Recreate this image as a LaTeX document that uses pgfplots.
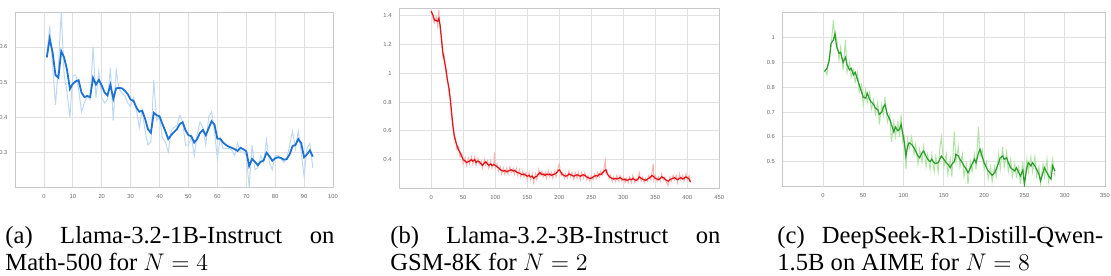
\documentclass[border=0pt]{standalone}
\usepackage{fontspec}
\setmainfont{Liberation Serif}
\setsansfont{Liberation Sans}
\usepackage{pgfplots}
\pgfplotsset{compat=1.18}
\definecolor{bdark}{RGB}{30,115,210}
\definecolor{blight}{RGB}{190,216,244}
\definecolor{rdark}{RGB}{228,18,22}
\definecolor{rlight}{RGB}{250,178,178}
\definecolor{gdark}{RGB}{45,155,45}
\definecolor{glight}{RGB}{175,228,165}
\newcommand{\ticklbl}{\sffamily\fontsize{2.9pt}{3.2pt}\selectfont}
\pgfplotsset{
  panel/.style={
    scale only axis,
    anchor=south west,
    axis line style={draw=black!22, line width=0.4pt},
    grid=major,
    major grid style={draw=black!12, line width=0.4pt},
    major tick length=0pt,
    tick style={draw=none},
    /pgf/number format/assume math mode=true,
    ticklabel style={font=\ticklbl, text=black!60},
    xticklabel style={yshift=0pt},
    yticklabel style={xshift=-0.3pt},
    extra x ticks={0},
    extra x tick labels={},
    extra x tick style={grid style={draw=black!35, line width=0.5pt}},
  },
}
\begin{document}
\begin{tikzpicture}
\useasboundingbox (0,0) rectangle (555.5pt,137.5pt);
% ---------------- (a)
\begin{axis}[panel, at={(7.5pt,44pt)}, width=159pt, height=87.5pt,
  xmin=-10, xmax=100, ymin=0.2, ymax=0.7,
  xtick={0,10,20,30,40,50,60,70,80,90,100},
  ytick={0.3,0.4,0.5,0.6}]
\addplot[blight, line width=0.5pt] coordinates {
(1,0.575)(2,0.66)(3,0.55)(4,0.435)(5,0.54)(6,0.70)(7,0.52)(8,0.47)(9,0.40)(10,0.52)
(11,0.52)(12,0.48)(13,0.415)(14,0.44)(15,0.46)(16,0.45)(17,0.60)(18,0.455)(19,0.53)(20,0.455)
(21,0.44)(22,0.45)(23,0.54)(24,0.39)(25,0.535)(26,0.48)(27,0.47)(28,0.46)(29,0.44)(30,0.43)
(31,0.455)(32,0.42)(33,0.37)(34,0.42)(35,0.36)(36,0.32)(37,0.33)(38,0.505)(39,0.39)(40,0.40)
(41,0.34)(42,0.33)(43,0.30)(44,0.36)(45,0.37)(46,0.375)(47,0.405)(48,0.385)(49,0.32)(50,0.32)
(51,0.345)(52,0.29)(53,0.35)(54,0.385)(55,0.37)(56,0.32)(57,0.40)(58,0.415)(59,0.36)(60,0.28)
(61,0.34)(62,0.31)(63,0.31)(64,0.31)(65,0.305)(66,0.29)(67,0.325)(68,0.30)(69,0.30)(70,0.29)
(71,0.20)(72,0.32)(73,0.25)(74,0.255)(75,0.29)(76,0.27)(77,0.335)(78,0.27)(79,0.25)(80,0.29)
(81,0.29)(82,0.28)(83,0.27)(84,0.28)(85,0.32)(86,0.36)(87,0.31)(88,0.36)(89,0.30)(90,0.23)
(91,0.31)(92,0.325)(93,0.255)};
\addplot[bdark, line width=0.9pt] coordinates {
(1,0.57)(2,0.624)(3,0.585)(4,0.52)(5,0.512)(6,0.588)(7,0.57)(8,0.535)(9,0.48)(10,0.495)
(11,0.502)(12,0.505)(13,0.47)(14,0.457)(15,0.46)(16,0.457)(17,0.512)(18,0.493)(19,0.506)(20,0.49)
(21,0.47)(22,0.462)(23,0.492)(24,0.452)(25,0.482)(26,0.483)(27,0.482)(28,0.475)(29,0.465)(30,0.45)
(31,0.446)(32,0.427)(33,0.415)(34,0.418)(35,0.395)(36,0.365)(37,0.355)(38,0.412)(39,0.405)(40,0.402)
(41,0.38)(42,0.36)(43,0.337)(44,0.348)(45,0.357)(46,0.365)(47,0.38)(48,0.385)(49,0.362)(50,0.348)
(51,0.345)(52,0.327)(53,0.337)(54,0.355)(55,0.363)(56,0.348)(57,0.368)(58,0.388)(59,0.378)(60,0.338)
(61,0.338)(62,0.327)(63,0.32)(64,0.315)(65,0.312)(66,0.308)(67,0.303)(68,0.312)(69,0.308)(70,0.302)
(71,0.26)(72,0.28)(73,0.272)(74,0.262)(75,0.272)(76,0.276)(77,0.298)(78,0.288)(79,0.275)(80,0.282)
(81,0.285)(82,0.283)(83,0.278)(84,0.28)(85,0.293)(86,0.317)(87,0.32)(88,0.337)(89,0.325)(90,0.285)
(91,0.293)(92,0.305)(93,0.287)};
\end{axis}
% ---------------- (b)
\begin{axis}[panel, at={(199.6pt,43.3pt)}, width=160pt, height=90pt,
  xmin=-50, xmax=450, ymin=0.2, ymax=1.45,
  xtick={0,50,100,150,200,250,300,350,400,450},
  ytick={0.4,0.6,0.8,1,1.2,1.4}]
\addplot[rlight, line width=0.5pt] coordinates {
(0,1.44)(3,1.38)(5,1.35)(8,1.39)(10,1.33)(12,1.44)(14,1.30)(16,1.26)(18,1.12)(20,1.13)
(23,1.00)(25,0.98)(28,0.86)(30,0.83)(32,0.69)(34,0.65)(36,0.54)(38,0.55)(40,0.47)(43,0.49)
(45,0.42)(48,0.44)(50,0.37)(53,0.41)(55,0.36)(58,0.41)(60,0.37)(63,0.42)(65,0.37)(68,0.42)
(70,0.36)(73,0.41)(75,0.37)(78,0.39)(80,0.34)(83,0.40)(85,0.36)(88,0.39)(90,0.34)(93,0.39)
(95,0.34)(98,0.38)(99,0.45)(100,0.34)(103,0.37)(105,0.32)(108,0.35)(110,0.30)(113,0.34)(115,0.30)
(118,0.34)(120,0.30)(123,0.35)(125,0.31)(128,0.34)(130,0.30)(133,0.34)(135,0.29)(138,0.33)(140,0.28)
(143,0.32)(145,0.28)(148,0.31)(150,0.26)(153,0.31)(155,0.26)(158,0.30)(160,0.24)(163,0.30)(165,0.26)
(168,0.33)(170,0.29)(173,0.32)(175,0.28)(178,0.31)(180,0.27)(183,0.32)(185,0.28)(188,0.31)(190,0.27)
(193,0.32)(195,0.28)(198,0.34)(200,0.37)(203,0.29)(205,0.31)(208,0.27)(210,0.30)(213,0.27)(215,0.32)
(218,0.28)(220,0.31)(223,0.26)(225,0.31)(228,0.27)(230,0.31)(233,0.26)(235,0.31)(238,0.27)(240,0.31)
(243,0.26)(245,0.29)(248,0.25)(250,0.29)(253,0.26)(255,0.30)(258,0.27)(260,0.31)(263,0.28)(265,0.32)
(268,0.29)(270,0.34)(272,0.39)(273,0.31)(275,0.32)(278,0.27)(280,0.29)(283,0.25)(285,0.28)(288,0.25)
(290,0.29)(293,0.25)(295,0.29)(298,0.25)(300,0.28)(303,0.24)(305,0.27)(308,0.24)(310,0.28)(313,0.24)
(315,0.29)(318,0.24)(320,0.27)(323,0.25)(325,0.31)(328,0.25)(330,0.28)(333,0.24)(335,0.27)(338,0.25)
(340,0.29)(343,0.26)(345,0.31)(347,0.37)(348,0.26)(350,0.29)(353,0.25)(355,0.28)(358,0.25)(360,0.30)
(363,0.26)(365,0.28)(368,0.24)(370,0.22)(373,0.28)(375,0.25)(378,0.29)(380,0.26)(383,0.29)(385,0.24)
(388,0.30)(390,0.26)(393,0.29)(395,0.25)(398,0.30)(400,0.26)(403,0.29)(405,0.24)};
\addplot[rdark, line width=0.6pt] coordinates {
(0,1.43)(3,1.40)(5,1.37)(8,1.365)(10,1.36)(12,1.38)(14,1.33)(16,1.24)(18,1.15)(20,1.10)
(23,1.03)(25,0.96)(28,0.89)(30,0.81)(32,0.72)(34,0.63)(36,0.57)(38,0.53)(40,0.50)(43,0.465)
(45,0.45)(48,0.42)(50,0.40)(53,0.39)(55,0.38)(58,0.385)(60,0.39)(63,0.40)(65,0.39)(68,0.40)
(70,0.38)(73,0.39)(75,0.385)(78,0.37)(80,0.36)(83,0.375)(85,0.385)(88,0.37)(90,0.36)(93,0.37)
(95,0.36)(98,0.365)(100,0.36)(103,0.35)(105,0.345)(108,0.33)(110,0.325)(113,0.32)(115,0.325)(118,0.315)
(120,0.32)(123,0.325)(125,0.33)(128,0.32)(130,0.325)(133,0.315)(135,0.31)(138,0.305)(140,0.30)(143,0.295)
(145,0.30)(148,0.29)(150,0.285)(153,0.29)(155,0.28)(158,0.285)(160,0.27)(163,0.28)(165,0.285)(168,0.30)
(170,0.31)(173,0.295)(175,0.30)(178,0.29)(180,0.30)(183,0.295)(185,0.30)(188,0.29)(190,0.295)(193,0.30)
(195,0.305)(198,0.32)(200,0.33)(203,0.31)(205,0.295)(208,0.29)(210,0.285)(213,0.29)(215,0.30)(218,0.295)
(220,0.29)(223,0.285)(225,0.29)(228,0.295)(230,0.29)(233,0.285)(235,0.29)(238,0.295)(240,0.29)(243,0.28)
(245,0.275)(248,0.27)(250,0.27)(253,0.28)(255,0.285)(258,0.29)(260,0.285)(263,0.30)(265,0.295)(268,0.31)
(270,0.32)(273,0.33)(275,0.30)(278,0.285)(280,0.275)(283,0.27)(285,0.265)(288,0.27)(290,0.265)(293,0.27)
(295,0.275)(298,0.265)(300,0.26)(303,0.265)(305,0.255)(308,0.26)(310,0.265)(313,0.26)(315,0.27)(318,0.26)
(320,0.255)(323,0.265)(325,0.28)(328,0.27)(330,0.265)(333,0.26)(335,0.255)(338,0.265)(340,0.27)(343,0.28)
(345,0.29)(348,0.28)(350,0.27)(353,0.265)(355,0.26)(358,0.27)(360,0.28)(363,0.275)(365,0.265)(368,0.255)
(370,0.25)(373,0.26)(375,0.265)(378,0.27)(380,0.275)(383,0.265)(385,0.26)(388,0.27)(390,0.275)(393,0.265)
(395,0.27)(398,0.28)(400,0.275)(403,0.265)(405,0.245)};
\end{axis}
% ---------------- (c)
\begin{axis}[panel, at={(391.3pt,44.2pt)}, width=161.2pt, height=87pt,
  xmin=-50, xmax=350, ymin=0.4, ymax=1.1,
  xtick={0,50,100,150,200,250,300,350},
  ytick={0.5,0.6,0.7,0.8,0.9,1}]
\addplot[glight, line width=0.5pt] coordinates {
(2,0.87)(5,0.85)(8,0.93)(10,0.96)(13,1.07)(15,0.99)(17,1.00)(20,0.91)(22,0.96)(25,0.87)
(28,0.99)(30,0.86)(33,0.90)(35,0.84)(38,0.87)(40,0.82)(43,0.86)(45,0.78)(48,0.81)(50,0.73)
(53,0.79)(55,0.74)(58,0.78)(60,0.71)(63,0.75)(65,0.69)(68,0.74)(70,0.65)(73,0.73)(75,0.69)
(77,0.76)(80,0.66)(83,0.69)(85,0.58)(88,0.66)(90,0.60)(93,0.66)(95,0.60)(97,0.69)(99,0.58)
(101,0.60)(103,0.47)(105,0.59)(107,0.55)(110,0.60)(113,0.53)(115,0.57)(118,0.49)(120,0.55)(123,0.50)
(125,0.56)(128,0.48)(130,0.53)(133,0.47)(135,0.53)(138,0.46)(140,0.52)(143,0.46)(145,0.55)(147,0.60)
(150,0.48)(153,0.53)(155,0.45)(158,0.51)(160,0.44)(163,0.62)(165,0.50)(168,0.56)(170,0.48)(173,0.53)
(175,0.44)(178,0.49)(180,0.41)(183,0.50)(185,0.46)(188,0.53)(190,0.47)(193,0.64)(195,0.52)(198,0.55)
(200,0.47)(203,0.50)(205,0.43)(208,0.48)(210,0.42)(213,0.48)(215,0.44)(218,0.53)(220,0.47)(223,0.56)
(225,0.48)(228,0.54)(230,0.46)(233,0.51)(235,0.44)(238,0.49)(240,0.44)(243,0.48)(245,0.41)(248,0.50)
(250,0.40)(253,0.51)(255,0.46)(258,0.52)(260,0.46)(263,0.52)(265,0.44)(268,0.48)(270,0.41)(273,0.49)
(275,0.44)(278,0.51)(280,0.42)(283,0.47)(285,0.51)(288,0.44)};
\addplot[gdark, line width=0.6pt] coordinates {
(2,0.863)(5,0.876)(8,0.91)(10,0.976)(13,0.99)(15,1.016)(17,0.963)(20,0.936)(22,0.94)(25,0.90)
(28,0.92)(30,0.89)(33,0.87)(35,0.876)(38,0.85)(40,0.86)(43,0.83)(45,0.81)(48,0.78)(50,0.76)
(53,0.756)(55,0.776)(58,0.75)(60,0.74)(63,0.73)(65,0.716)(68,0.71)(70,0.69)(73,0.70)(75,0.72)
(77,0.73)(80,0.69)(83,0.67)(85,0.65)(88,0.62)(90,0.64)(93,0.625)(95,0.63)(97,0.65)(99,0.616)
(101,0.576)(103,0.523)(105,0.563)(107,0.576)(110,0.57)(113,0.556)(115,0.543)(118,0.523)(120,0.516)(123,0.536)
(125,0.543)(128,0.523)(130,0.51)(133,0.50)(135,0.51)(138,0.496)(140,0.493)(143,0.496)(145,0.51)(147,0.523)
(150,0.51)(153,0.496)(155,0.49)(158,0.476)(160,0.49)(163,0.50)(165,0.53)(168,0.523)(170,0.51)(173,0.496)
(175,0.483)(178,0.47)(180,0.456)(183,0.476)(185,0.49)(188,0.51)(190,0.496)(193,0.536)(195,0.55)(198,0.516)
(200,0.496)(203,0.476)(205,0.463)(208,0.453)(210,0.445)(213,0.456)(215,0.47)(218,0.496)(220,0.516)(223,0.523)
(225,0.51)(228,0.516)(230,0.496)(233,0.476)(235,0.47)(238,0.463)(240,0.476)(243,0.456)(245,0.443)(248,0.466)
(250,0.41)(253,0.476)(255,0.496)(258,0.483)(260,0.496)(263,0.483)(265,0.47)(268,0.45)(270,0.423)(273,0.456)
(275,0.476)(278,0.456)(280,0.443)(283,0.43)(285,0.483)(288,0.463)};
\end{axis}
% ---------------- captions
\begin{scope}[every node/.style={inner sep=0pt, anchor=base west, font=\fontsize{12.3pt}{14pt}\selectfont}]
\node at (2.5pt,16pt) {\hbox to 164.5pt{(a)\hfill Llama-3.2-1B-Instruct\hfill on}};
\node at (2.5pt,2.2pt) {Math-500 for $N=4$};
\node at (195pt,16pt) {\hbox to 165pt{(b)\hfill Llama-3.2-3B-Instruct\hfill on}};
\node at (195pt,2.2pt) {GSM-8K for $N=2$};
\node at (388.5pt,16pt) {\hbox to 163pt{(c)\hspace{0pt plus 1fil} DeepSeek-R1-Distill-Qwen-}};
\node at (388.5pt,2.2pt) {1.5B on AIME for $N=8$};
\end{scope}
\end{tikzpicture}
\end{document}
